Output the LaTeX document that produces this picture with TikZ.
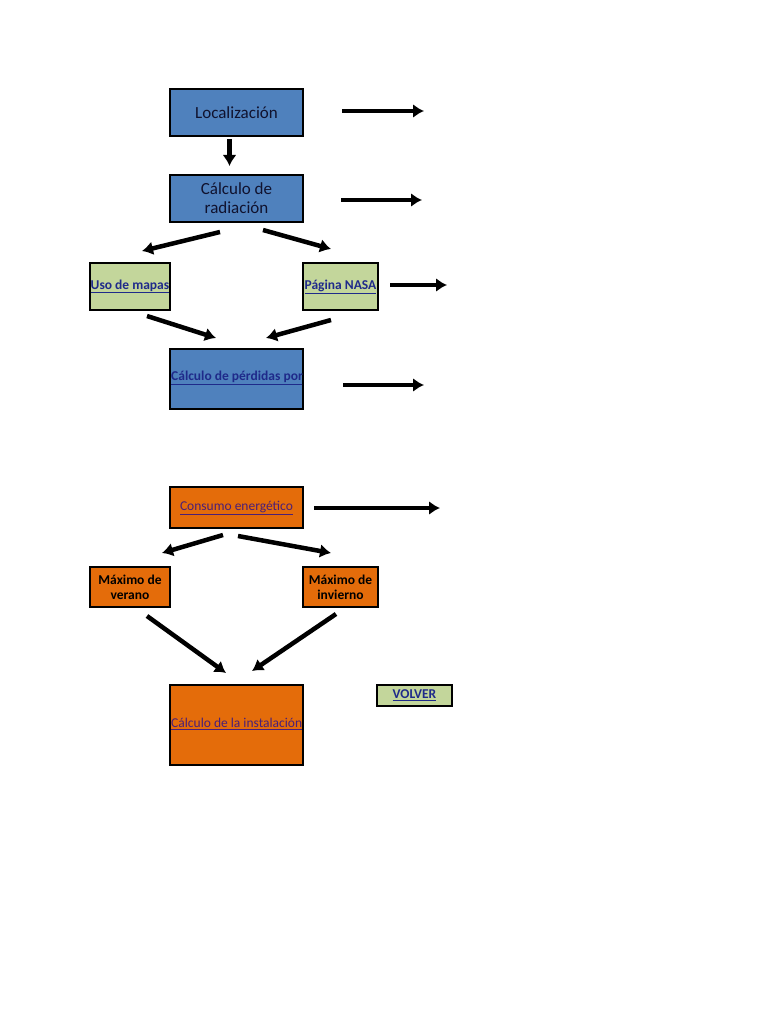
\documentclass[tikz,border=0pt]{standalone}
\usepackage{fontspec}
\setmainfont{Carlito}
\usetikzlibrary{arrows.meta}
\definecolor{boxblue}{HTML}{4F81BD}
\definecolor{boxgreen}{HTML}{C3D69B}
\definecolor{boxorange}{HTML}{E46C0A}
\definecolor{linkblue}{HTML}{1F2A8A}
\definecolor{linkpurple}{HTML}{4A1F78}
\definecolor{darktext}{HTML}{10122E}

\begin{document}
\begin{tikzpicture}[x=1pt,y=-1pt,
    box/.style={draw=black,line width=2pt,inner sep=0pt,align=center},
    arr/.style={line width=4.5pt,-{Latex[length=11pt,width=14pt]}},
    bigtext/.style={font=\fontsize{17}{19}\selectfont,text=darktext},
    linktext/.style={font=\fontsize{13.5}{15}\selectfont\bfseries,text=linkblue},
    visited/.style={font=\fontsize{13.5}{15}\selectfont,text=linkpurple},
    boldtext/.style={font=\fontsize{13.5}{15}\selectfont\bfseries,text=black}]
\useasboundingbox (0,0) rectangle (768,1024);

\path
    [bigtext,minimum width=133pt]
    (236.5,112.5) node [box,fill=boxblue,minimum height=47pt] (loc) {Localización}
    (236.5,198.5) node [box,fill=boxblue,minimum height=47pt] (rad) {Cálculo de\\radiación}
    (236.5,379) node [box,fill=boxblue,minimum height=60pt] (perd) {};
\path
    [linktext,minimum height=47pt]
    (130,286.5) node [box,fill=boxgreen,minimum width=80pt] (uso) {\underline{Uso de mapas}}
    (340.5,286.5) node [box,fill=boxgreen,minimum width=75pt] (nasa) {\underline{Página NASA}};
\path
    [minimum width=133pt]
    (236.5,507.5) node [box,fill=boxorange,visited,minimum height=41pt] (cons) {\underline{Consumo energético}}
    (236.5,725) node [box,fill=boxorange,minimum height=80pt] (inst) {};
\path
    [boldtext,minimum height=40pt]
    (130,587) node [box,fill=boxorange,minimum width=80pt] (ver) {Máximo de\\verano}
    (340.5,587) node [box,fill=boxorange,minimum width=75pt] (inv) {Máximo de\\invierno};
\path
    (414.5,695.5) node [box,fill=boxgreen,linktext,minimum width=75pt,minimum height=21pt] (volver) {\underline{VOLVER}};

\begin{scope}
\clip ([xshift=2pt,yshift=2pt]perd.south west) rectangle ([xshift=-2pt,yshift=-2pt]perd.north east);
\node [linktext,anchor=west,inner sep=0pt] (perdtext) at ([xshift=2pt,yshift=1pt]perd.west) {\underline{Cálculo de pérdidas por}};
\end{scope}
\begin{scope}
\clip ([xshift=2pt,yshift=2pt]inst.south west) rectangle ([xshift=-2pt,yshift=-2pt]inst.north east);
\node [visited,anchor=west,inner sep=0pt] (insttext) at ([xshift=2pt,yshift=1pt]inst.west) {\underline{Cálculo de la instalación}};
\end{scope}

\path
    ([xshift=38pt,yshift=1.5pt]loc.east) coordinate (locstart)
    ([xshift=120pt,yshift=1.5pt]loc.east) coordinate (locend)
    ([xshift=37pt,yshift=-1.5pt]rad.east) coordinate (radstart)
    ([xshift=118pt,yshift=-1.5pt]rad.east) coordinate (radend)
    ([xshift=11pt,yshift=1.5pt]nasa.east) coordinate (nasastart)
    ([xshift=68pt,yshift=1.5pt]nasa.east) coordinate (nasaend)
    ([xshift=39pt,yshift=-6pt]perd.east) coordinate (perdstart)
    ([xshift=120pt,yshift=-6pt]perd.east) coordinate (perdend)
    ([xshift=10pt,yshift=-0.5pt]cons.east) coordinate (consstart)
    ([xshift=136pt,yshift=-0.5pt]cons.east) coordinate (consend);
\draw [arr] (locstart) -- (locend);
\draw [arr] (radstart) -- (radend);
\draw [arr] (nasastart) -- (nasaend);
\draw [arr] (perdstart) -- (perdend);
\draw [arr] (consstart) -- (consend);

\draw [arr] ([xshift=-7pt,yshift=-2pt]loc.south) -- ([xshift=-7pt,yshift=8pt]rad.north);
\draw [arr] ([xshift=-16.5pt,yshift=-9pt]rad.south) -- ([xshift=12pt,yshift=11pt]uso.north);
\draw [arr] ([xshift=26.5pt,yshift=-7pt]rad.south) -- ([xshift=-9.5pt,yshift=13pt]nasa.north);
\draw [arr] ([xshift=17pt,yshift=-5pt]uso.south) -- ([xshift=-20.5pt,yshift=10pt]perd.north);
\draw [arr] ([xshift=-9.5pt,yshift=-9pt]nasa.south) -- ([xshift=29.5pt,yshift=10pt]perd.north);
\draw [arr] ([xshift=-13.5pt,yshift=-6pt]cons.south) -- ([xshift=32pt,yshift=13pt]ver.north);
\draw [arr] ([xshift=1.5pt,yshift=-7pt]cons.south) -- ([xshift=-9.5pt,yshift=13pt]inv.north);
\draw [arr] ([xshift=17pt,yshift=-8pt]ver.south) -- ([xshift=-10.5pt,yshift=11pt]inst.north);
\draw [arr] ([xshift=-4.5pt,yshift=-6pt]inv.south) -- ([xshift=15.5pt,yshift=13pt]inst.north);
\end{tikzpicture}
\end{document}
